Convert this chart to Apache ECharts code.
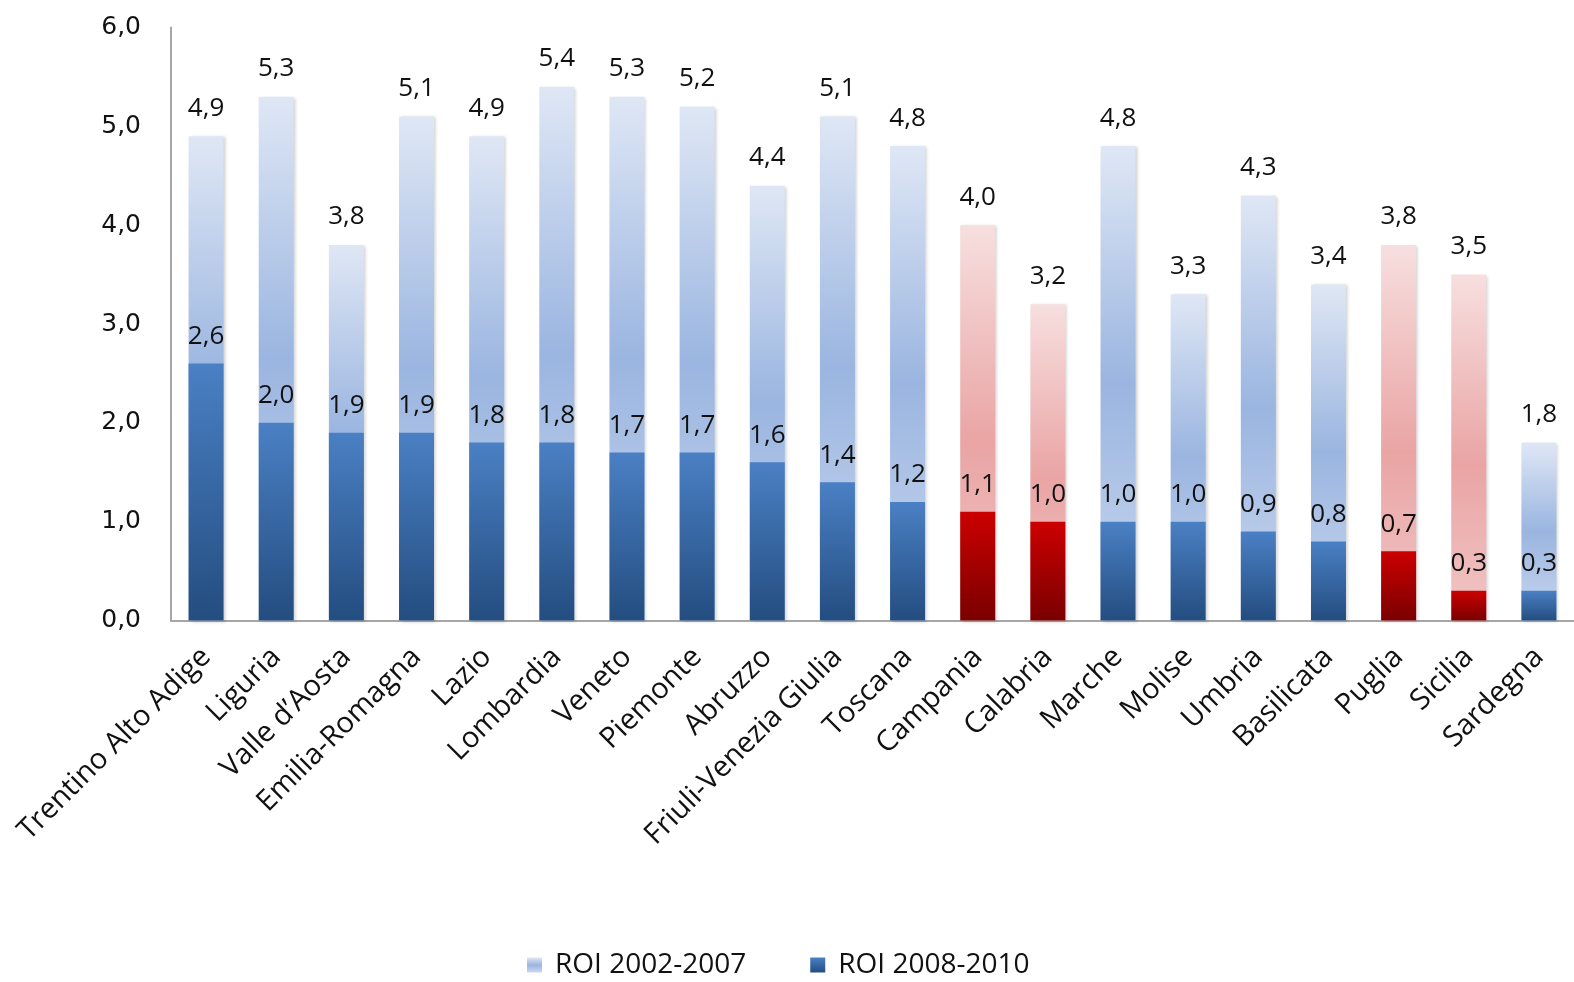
<!DOCTYPE html>
<html>
<head>
<meta charset="utf-8">
<script src="https://cdn.jsdelivr.net/npm/echarts@6/dist/echarts.min.js"></script>
<style>
  html, body { margin: 0; padding: 0; background: #fff; }
  #chart { width: 1574px; height: 982px; }
</style>
</head>
<body>
<div id="chart"></div>
<script>
// Italian regions, ROI by period
const regions = ['Trentino Alto Adige', 'Liguria', 'Valle d\u2019Aosta', 'Emilia-Romagna', 'Lazio',
  'Lombardia', 'Veneto', 'Piemonte', 'Abruzzo', 'Friuli-Venezia Giulia', 'Toscana', 'Campania',
  'Calabria', 'Marche', 'Molise', 'Umbria', 'Basilicata', 'Puglia', 'Sicilia', 'Sardegna'];
const roi2002_2007 = [4.9, 5.3, 3.8, 5.1, 4.9, 5.4, 5.3, 5.2, 4.4, 5.1, 4.8, 4.0, 3.2, 4.8, 3.3, 4.3, 3.4, 3.8, 3.5, 1.8];
const roi2008_2010 = [2.6, 2.0, 1.9, 1.9, 1.8, 1.8, 1.7, 1.7, 1.6, 1.4, 1.2, 1.1, 1.0, 1.0, 1.0, 0.9, 0.8, 0.7, 0.3, 0.3];
const highlighted = ['Campania', 'Calabria', 'Puglia', 'Sicilia'];
const yTicks = { min: 0, max: 6, interval: 1 };

const grad = (stops) => ({
  type: 'linear', x: 0, y: 0, x2: 0, y2: 1,
  colorStops: stops.map(([offset, color]) => ({ offset, color }))
});
const lightBlue = grad([[0, '#dfe7f5'], [0.5, '#9ab5e0'], [1, '#cbd8ef']]);
const lightRed = grad([[0, '#f7dfdf'], [0.55, '#eaa4a4'], [1, '#f1c6c6']]);
const darkBlue = grad([[0, '#4a80c4'], [1, '#244d80']]);
const darkRed = grad([[0, '#cc0000'], [1, '#7a0000']]);

const comma = (v) => Number(v).toFixed(1).replace('.', ',');
const labelFont = { fontFamily: 'Open Sans', fontSize: 26, color: '#111' };

const buildData = (values, normal, red) => values.map((v, i) => ({
  value: v,
  itemStyle: { color: highlighted.includes(regions[i]) ? red : normal }
}));

const barShadow = { shadowColor: 'rgba(0,0,0,0.18)', shadowBlur: 3, shadowOffsetX: 2, shadowOffsetY: 1 };

const chart = echarts.init(document.getElementById('chart'), null, { renderer: 'canvas' });
chart.setOption({
  animation: false,
  backgroundColor: '#fff',
  grid: { left: 171, right: -10, top: 27.5, bottom: 361.5, containLabel: false },
  legend: {
    bottom: -2, left: 522,
    itemWidth: 15, itemHeight: 15, itemGap: 64,
    icon: 'rect',
    textStyle: { fontFamily: 'Open Sans', fontSize: 28, color: '#111', padding: [0, 0, 0, 8] },
    data: ['ROI 2002-2007', 'ROI 2008-2010']
  },
  xAxis: {
    type: 'category',
    data: regions,
    axisLine: { lineStyle: { color: '#a6a6a6', width: 2 } },
    axisTick: { show: false },
    axisLabel: {
      rotate: 45, interval: 0, margin: 32,
      fontFamily: 'Open Sans', fontSize: 29, color: '#111'
    }
  },
  yAxis: {
    type: 'value',
    min: yTicks.min, max: yTicks.max, interval: yTicks.interval,
    axisLine: { show: true, lineStyle: { color: '#a6a6a6', width: 2 } },
    axisTick: { show: false },
    splitLine: { show: false },
    axisLabel: {
      margin: 30, formatter: comma,
      fontFamily: 'DejaVu Sans', fontSize: 25, color: '#111'
    }
  },
  series: [
    {
      name: 'ROI 2002-2007',
      type: 'bar',
      barWidth: 35,
      barGap: '-100%',
      itemStyle: Object.assign({ color: lightBlue }, barShadow),
      label: Object.assign({ show: true, position: 'top', distance: 15, formatter: (p) => comma(p.value) }, labelFont),
      data: buildData(roi2002_2007, lightBlue, lightRed)
    },
    {
      name: 'ROI 2008-2010',
      type: 'bar',
      barWidth: 35,
      barGap: '-100%',
      itemStyle: { color: darkBlue },
      label: Object.assign({ show: true, position: 'top', distance: 14, formatter: (p) => comma(p.value) }, labelFont),
      data: buildData(roi2008_2010, darkBlue, darkRed)
    }
  ]
});
</script>
</body>
</html>
